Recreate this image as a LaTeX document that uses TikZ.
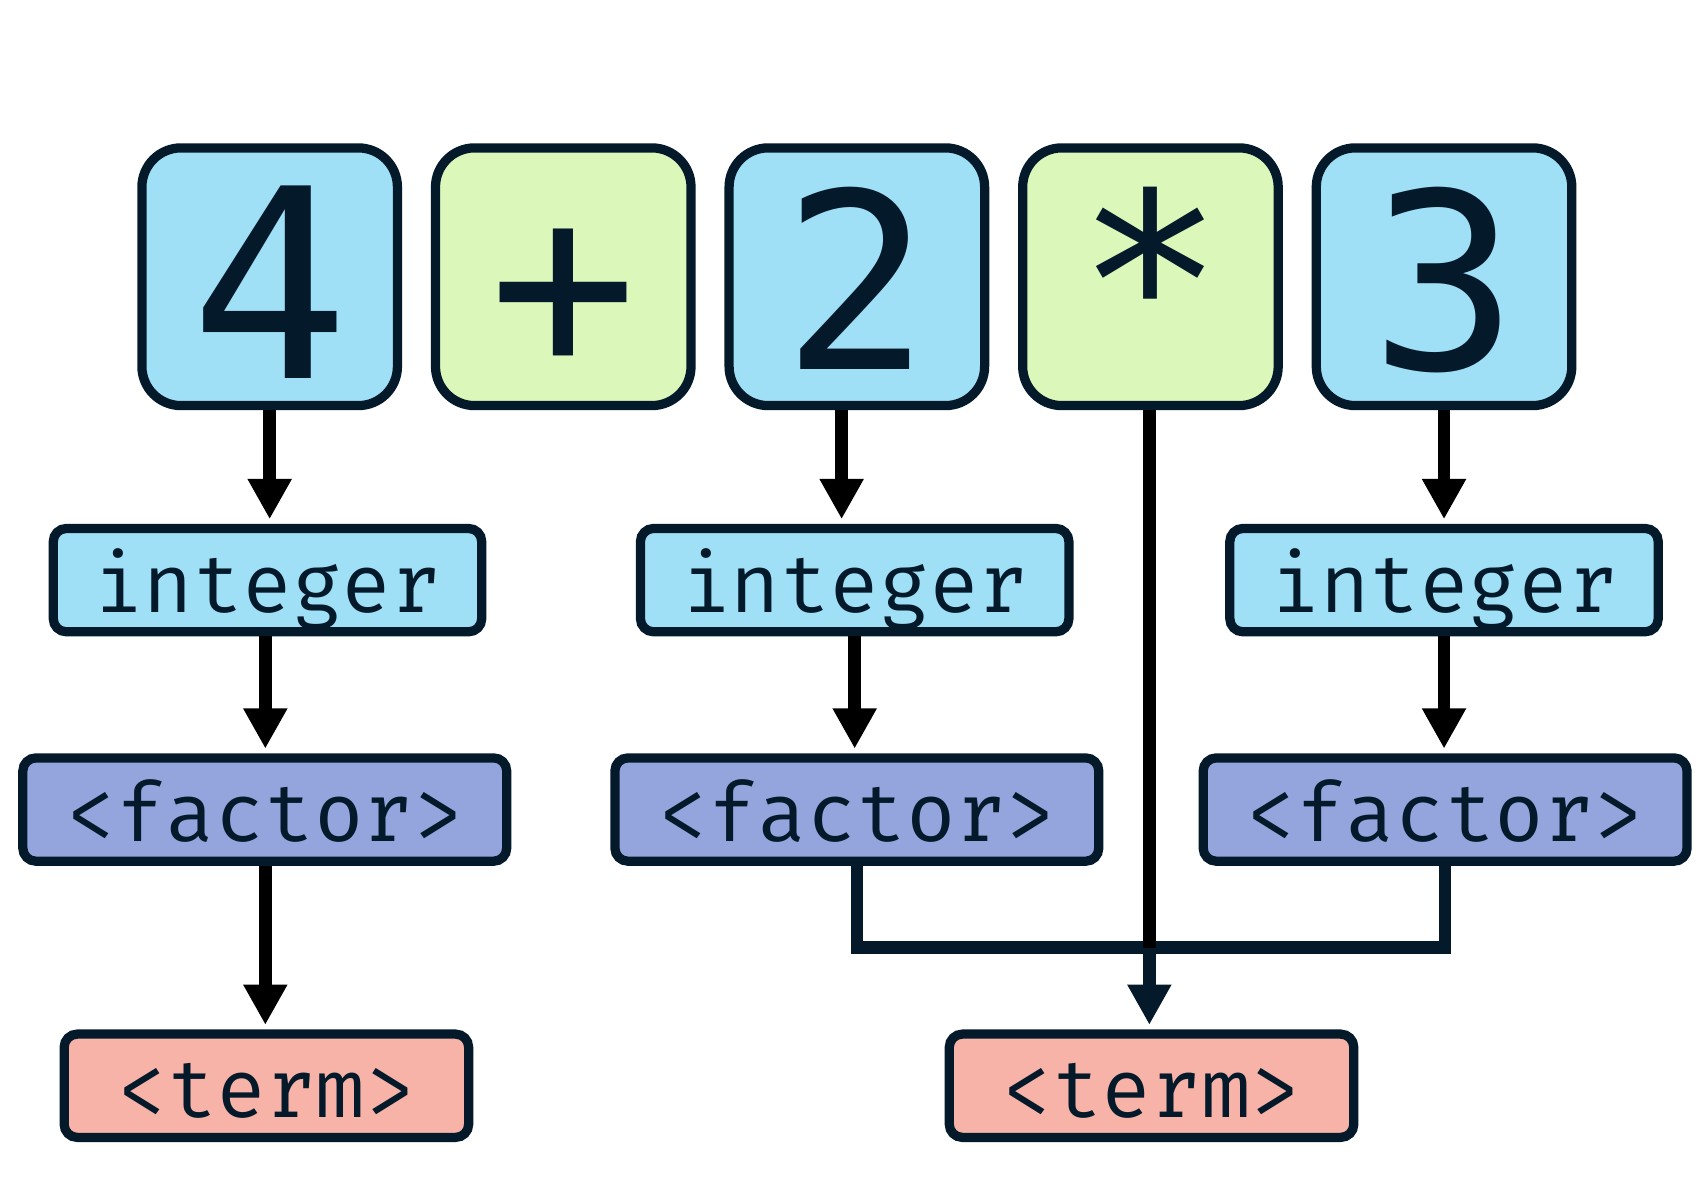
\documentclass[tikz,border=0pt]{standalone}
\usepackage{fontspec}
\newfontfamily\codefont{Fira Mono}
\newfontfamily\symfont{DejaVu Sans Mono}
\usetikzlibrary{arrows.meta}
\definecolor{navy}{HTML}{041A2B}
\definecolor{numblue}{HTML}{9FE0F7}
\definecolor{opgreen}{HTML}{DBF7BA}
\definecolor{facpurple}{HTML}{94A5DD}
\definecolor{termsalmon}{HTML}{F7B3A7}
\begin{document}
\begin{tikzpicture}[x=1pt,y=-1pt,
  bigbox/.style={draw=navy, line width=8.5pt, rounded corners=36pt,
    minimum width=235pt, minimum height=237pt, inner sep=0pt, text=navy,
    font=\symfont\fontsize{226}{226}\selectfont, text height=171pt, text depth=0pt},
  bigfour/.style={font=\symfont\fontsize{243}{243}\selectfont, text height=187pt},
  smallbox/.style={draw=navy, line width=8.5pt, rounded corners=12pt,
    minimum height=95pt, inner sep=0pt, text=navy,
    font=\codefont\fontsize{76}{76}\selectfont, text height=59pt, text depth=0pt},
  intbox/.style={smallbox, fill=numblue, minimum width=394pt},
  facbox/.style={smallbox, fill=facpurple, minimum width=445pt},
  termbox/.style={smallbox, fill=termsalmon, minimum width=372pt},
  arr/.style={line width=11.5pt, black, -{Triangle[width=38pt,length=37pt]}, shorten >=4.25pt},
  busline/.style={line width=11.5pt, navy, line join=miter}
]
\useasboundingbox (0,0) rectangle (1568,1103.6);

% top row
\node[bigbox, bigfour, fill=numblue] (n4) at (248,254.5) {4};
\node[bigbox, fill=opgreen] (plus) at (518,254.5) {+};
\node[bigbox, fill=numblue] (n2) at (788,254.5) {2};
\node[bigbox, fill=opgreen] (mul) at (1058,254.5) {*};
\node[bigbox, fill=numblue] (n3) at (1328,254.5) {3};

% integer row
\node[intbox] (int1) at (246,533.5) {integer};
\node[intbox] (int2) at (786,533.5) {integer};
\node[intbox] (int3) at (1328,533.5) {integer};

% factor row
\node[facbox] (fac1) at (243.5,744.5) {<factor>};
\node[facbox] (fac2) at (788,744.5) {<factor>};
\node[facbox] (fac3) at (1329,744.5) {<factor>};

% term row
\node[termbox] (term1) at (245,998.5) {<term>};
\node[termbox] (term2) at (1059,998.5) {<term>};

\coordinate (jn) at (1057,871.5);

% arrows
\draw[arr] (n4.south) -- (n4.south |- int1.north);
\draw[arr] ([xshift=-2pt]int1.south) -- ([xshift=-2pt]int1.south |- fac1.north);
\draw[arr] ([xshift=0.5pt]fac1.south) -- ([xshift=0.5pt]fac1.south |- term1.north);

\draw[arr] ([xshift=-14pt]n2.south) -- ([xshift=-14pt]n2.south |- int2.north);
\draw[arr] (int2.south) -- (int2.south |- fac2.north);

\draw[arr] (n3.south) -- (n3.south |- int3.north);
\draw[arr] (int3.south) -- (int3.south |- fac3.north);

% bus joining the two factors
\draw[busline] (fac2.south) -- (fac2.south |- jn) -- (fac3.south |- jn) -- (fac3.south);
\draw[line width=11.5pt, black] (mul.south -| jn) -- (jn);
\draw[arr, navy] (jn) -- (jn |- term2.north);
\end{tikzpicture}
\end{document}
